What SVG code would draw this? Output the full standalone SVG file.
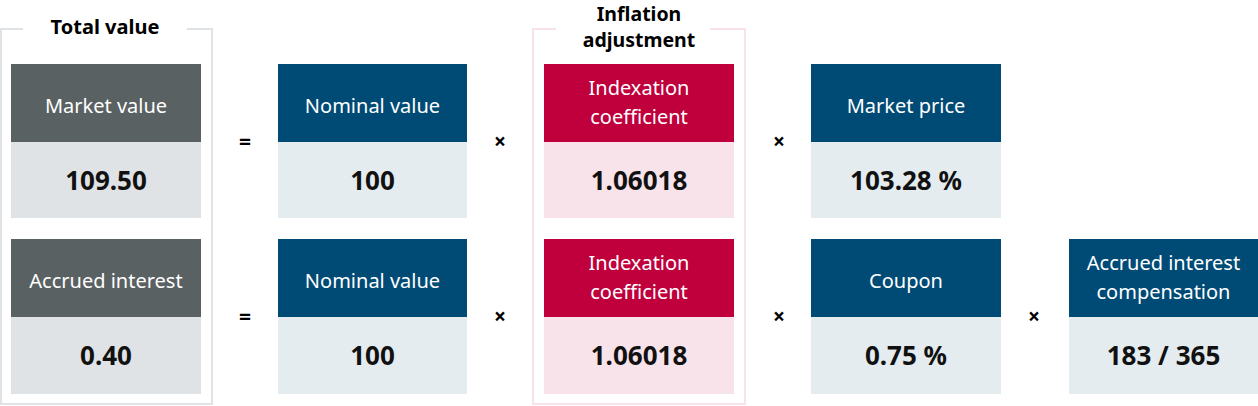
<svg xmlns="http://www.w3.org/2000/svg" width="1258" height="406" viewBox="0 0 1258 406">
<style>
.frameg{fill:none;stroke:#dfe3e6;stroke-width:2}
.framep{fill:none;stroke:#f9e3ea;stroke-width:2}
.title{font-family:"Noto Sans",sans-serif;font-weight:bold;font-size:20px;fill:#000;text-anchor:middle}
.hd{font-family:"Noto Sans",sans-serif;font-size:20px;fill:#fff;text-anchor:middle}
.val{font-family:"Noto Sans",sans-serif;font-weight:bold;font-size:26px;fill:#111;text-anchor:middle}
.op{font-family:"Noto Sans",sans-serif;font-weight:bold;font-size:21px;fill:#000;text-anchor:middle}
.gh{fill:#5a6163}.gv{fill:#dfe3e6}
.bh{fill:#004b76}.bv{fill:#e4ecf0}
.rh{fill:#c0003c}.rv{fill:#f9e3ea}
</style>
<g id="frame-total">
<path class="frameg" d="M23,29 H1 V404 H212 V29 H187"/>
<text class="title" x="105" y="34">Total value</text>
</g>
<g id="frame-inflation">
<path class="framep" d="M556,29 H533 V404 H745 V29 H710"/>
<text class="title" x="639" y="21" style="font-size:19.5px">Inflation</text>
<text class="title" x="639" y="47" style="font-size:19.5px">adjustment</text>
</g>
<g id="market-value">
<rect class="gh" x="11" y="64" width="190" height="78"/>
<rect class="gv" x="11" y="142" width="190" height="76"/>
<text class="hd" x="106" y="113">Market value</text>
<text class="val" x="106" y="190">109.50</text>
</g>
<g id="nominal-value-1">
<rect class="bh" x="278" y="64" width="189" height="78"/>
<rect class="bv" x="278" y="142" width="189" height="76"/>
<text class="hd" x="372.5" y="113">Nominal value</text>
<text class="val" x="372.5" y="190">100</text>
</g>
<g id="indexation-1">
<rect class="rh" x="544" y="64" width="190" height="78"/>
<rect class="rv" x="544" y="142" width="190" height="76"/>
<text class="hd" x="639" y="95">Indexation</text>
<text class="hd" x="639" y="124">coefficient</text>
<text class="val" x="639" y="190">1.06018</text>
</g>
<g id="market-price">
<rect class="bh" x="811" y="64" width="190" height="78"/>
<rect class="bv" x="811" y="142" width="190" height="76"/>
<text class="hd" x="906" y="113">Market price</text>
<text class="val" x="906" y="190">103.28 %</text>
</g>
<g id="accrued-interest">
<rect class="gh" x="11" y="239" width="190" height="78"/>
<rect class="gv" x="11" y="317" width="190" height="77"/>
<text class="hd" x="106" y="288">Accrued interest</text>
<text class="val" x="106" y="365">0.40</text>
</g>
<g id="nominal-value-2">
<rect class="bh" x="278" y="239" width="189" height="78"/>
<rect class="bv" x="278" y="317" width="189" height="77"/>
<text class="hd" x="372.5" y="288">Nominal value</text>
<text class="val" x="372.5" y="365">100</text>
</g>
<g id="indexation-2">
<rect class="rh" x="544" y="239" width="190" height="78"/>
<rect class="rv" x="544" y="317" width="190" height="77"/>
<text class="hd" x="639" y="270">Indexation</text>
<text class="hd" x="639" y="299">coefficient</text>
<text class="val" x="639" y="365">1.06018</text>
</g>
<g id="coupon">
<rect class="bh" x="811" y="239" width="190" height="78"/>
<rect class="bv" x="811" y="317" width="190" height="77"/>
<text class="hd" x="906" y="288">Coupon</text>
<text class="val" x="906" y="365">0.75 %</text>
</g>
<g id="accrued-comp">
<rect class="bh" x="1069" y="239" width="189" height="78"/>
<rect class="bv" x="1069" y="317" width="189" height="77"/>
<text class="hd" x="1163.5" y="270">Accrued interest</text>
<text class="hd" x="1163.5" y="299">compensation</text>
<text class="val" x="1163.5" y="365">183 / 365</text>
</g>
<g id="connectors">
<text class="op" x="245" y="149">=</text>
<text class="op" x="500" y="149">×</text>
<text class="op" x="779" y="149">×</text>
<text class="op" x="245" y="324">=</text>
<text class="op" x="500" y="324">×</text>
<text class="op" x="779" y="324">×</text>
<text class="op" x="1034" y="324">×</text>
</g>
</svg>
